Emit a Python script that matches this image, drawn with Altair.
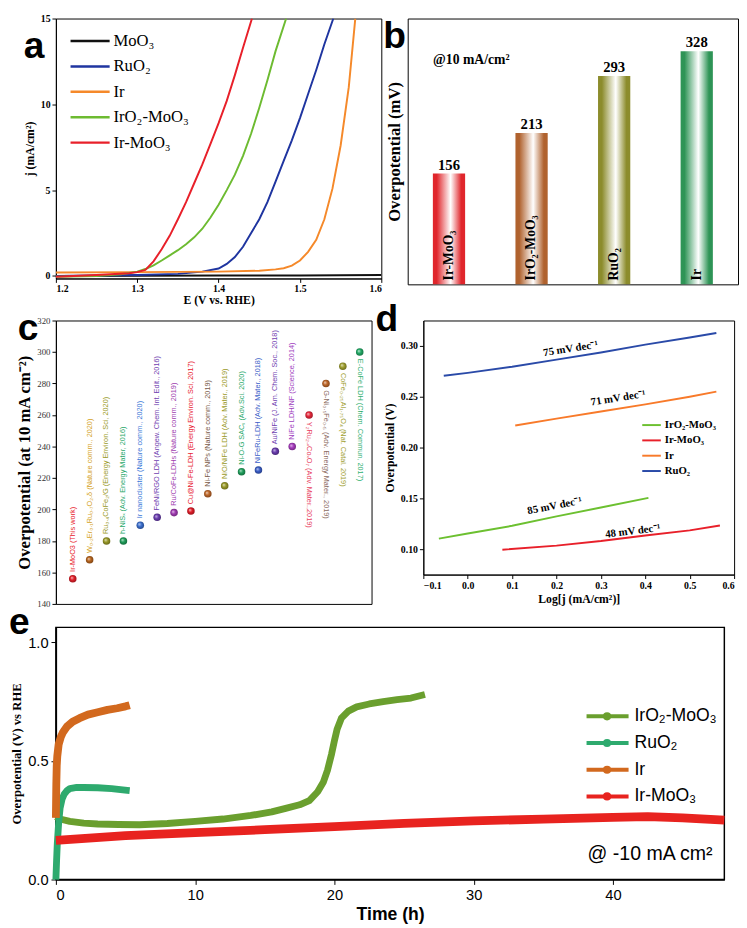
import altair as alt
import pandas as pd

SERIF = "Liberation Serif"
SANS = "Liberation Sans"

# ---------------- panel a : LSV curves ----------------
a_names = ["MoO₃", "RuO₂", "Ir", "IrO₂-MoO₃", "Ir-MoO₃"]
a_colors = ["#111111", "#1f35a0", "#f5892a", "#6dbb31", "#e8202a"]
a_moo3_E = [1.20, 1.30, 1.40, 1.50, 1.60]
a_moo3_j = [0.00, 0.01, 0.02, 0.03, 0.05]
a_ruo2_E = [1.20, 1.30, 1.35, 1.38, 1.40, 1.41, 1.42, 1.43, 1.44, 1.45, 1.46, 1.47, 1.48, 1.49, 1.50, 1.51, 1.52, 1.53, 1.541]
a_ruo2_j = [0.00, 0.05, 0.12, 0.25, 0.43, 0.70, 1.10, 1.70, 2.50, 3.30, 4.30, 5.50, 6.70, 7.90, 9.20, 10.6, 12.0, 13.5, 15.0]
a_ir_E = [1.20, 1.30, 1.40, 1.45, 1.47, 1.48, 1.49, 1.50, 1.51, 1.52, 1.53, 1.54, 1.55, 1.56, 1.568]
a_ir_j = [0.20, 0.22, 0.25, 0.30, 0.38, 0.45, 0.60, 0.90, 1.40, 2.10, 3.30, 5.10, 7.60, 11.0, 15.0]
a_iro2_E = [1.20, 1.25, 1.28, 1.30, 1.31, 1.32, 1.33, 1.34, 1.35, 1.36, 1.37, 1.38, 1.39, 1.40, 1.41, 1.42, 1.43, 1.44, 1.45, 1.46, 1.47, 1.483]
a_iro2_j = [-0.05, 0.00, 0.10, 0.25, 0.40, 0.62, 0.90, 1.20, 1.50, 1.85, 2.25, 2.75, 3.40, 4.15, 5.00, 5.90, 7.00, 8.30, 9.80, 11.4, 13.1, 15.0]
a_irmoo3_E = [1.20, 1.25, 1.29, 1.30, 1.31, 1.32, 1.33, 1.34, 1.35, 1.36, 1.37, 1.38, 1.39, 1.40, 1.41, 1.42, 1.43, 1.441]
a_irmoo3_j = [-0.05, 0.05, 0.15, 0.22, 0.35, 0.85, 1.55, 2.35, 3.30, 4.30, 5.40, 6.50, 7.70, 8.90, 10.2, 11.7, 13.3, 15.0]

# ---------------- panel b : overpotential bars ----------------
b_names = ["Ir-MoO₃", "IrO₂-MoO₃", "RuO₂", "Ir"]
b_values = [156, 213, 293, 328]
b_colors = ["#e0262c", "#b0622e", "#8c8c2c", "#2e9456"]

# ---------------- panel c : comparison ----------------
c_labels = [
    "Ir-MoO3 (This work)",
    "W₀.₂Er₀.₁Ru₀.₇O₂₋δ (Nature comm., 2020)",
    "Ru₀.₄CoFe₂/G (Energy Environ. Sci, 2020)",
    "h-NiSₓ (Adv. Energy Mater, 2016)",
    "Ir nanocluster (Nature comm., 2020)",
    "FeNi/RGO LDH (Angew. Chem. Int. Edit., 2016)",
    "Ru/CoFe-LDHs (Nature comm., 2019)",
    "Cu@Ni-Fe-LDH (Energy Environ. Sci, 2017)",
    "Ni-Fe NPs (Nature comm., 2019)",
    "NiO/NiFe LDH (Adv. Mater., 2019)",
    "Ni-O-G SACₛ (Adv.Sci. 2020)",
    "NiFeRu-LDH (Adv. Mater., 2018)",
    "Au/NiFe (J. Am. Chem. Soc., 2018)",
    "NiFe LDH/NF (Science, 2014)",
    "Y₂Ru₂₋ₓCoₓO₇ (Adv. Mater.,2019)",
    "G-Ni₀.₅Fe₀.₅ (Adv. Energy Mater., 2019)",
    "CoFe₀.₂₅Al₁.₇₅O₄ (Nat. Catal. 2019)",
    "E-CoFe LDH (Chem. Commun, 2017)",
]
c_values = [156, 168, 180, 180, 190, 195, 198, 199, 210, 215, 224, 225, 237, 240, 260, 280, 291, 300]
c_label_down = [False] * 14 + [True] * 4
c_point_colors = ["#e3202a", "#b8651e", "#9a9a28", "#1f9e5a", "#3a6fd0", "#6a3cb0", "#a23cb4", "#e01c28",
                  "#c0682a", "#9a9a28", "#1fa05c", "#3a5ec8", "#6a3cb0", "#a83cc0", "#e8283c", "#c0682a",
                  "#a0a030", "#22aa66"]
c_text_colors = ["#e8202a", "#d4a21e", "#9a9a28", "#28a86a", "#3a78d8", "#7040b0", "#a040b0", "#e82030",
                 "#7a5a48", "#9a9a28", "#28a86a", "#3a60c8", "#7040b0", "#a040c0", "#e84060", "#8a6a60",
                 "#a0a030", "#30b070"]

# ---------------- panel d : Tafel ----------------
d_names = ["IrO₂-MoO₃", "Ir-MoO₃", "Ir", "RuO₂"]
d_colors = ["#6cc030", "#e8202a", "#f87a2a", "#2a4aa8"]
d_ruo2_x = [-0.054, 0.0, 0.1, 0.2, 0.3, 0.4, 0.5, 0.56]
d_ruo2_y = [0.2706, 0.2735, 0.2795, 0.2865, 0.2935, 0.3013, 0.3083, 0.3127]
d_ir_x = [0.107, 0.2, 0.3, 0.4, 0.5, 0.56]
d_ir_y = [0.2217, 0.2285, 0.2354, 0.2425, 0.2500, 0.2550]
d_iro2_x = [-0.065, 0.0, 0.1, 0.2, 0.3, 0.407]
d_iro2_y = [0.1104, 0.1155, 0.1230, 0.1323, 0.1410, 0.1505]
d_irmoo3_x = [0.078, 0.2, 0.3, 0.4, 0.5, 0.568]
d_irmoo3_y = [0.0995, 0.1035, 0.1080, 0.1135, 0.1185, 0.1233]
d_slope_text = ["75 mV dec⁻¹", "71 mV dec⁻¹", "85 mV dec⁻¹", "48 mV dec⁻¹"]
d_slope_x = [0.232, 0.339, 0.196, 0.372]
d_slope_y = [0.297, 0.2484, 0.1424, 0.1175]
d_slope_angle = [351, 351, 349, 353]

# ---------------- panel e : stability ----------------
e_names = ["IrO₂-MoO₃", "RuO₂", "Ir", "Ir-MoO₃"]
e_colors = ["#6a9f2e", "#2eaa6e", "#d2691e", "#e8231f"]
e_iro2_t = [0.0, 0.3, 1, 2, 3, 4.5, 6, 8, 10, 12, 14, 15.5, 16.5, 17.5, 18.2, 18.8, 19.2, 19.5, 19.8, 20.0, 20.2, 20.5, 21.0, 21.6, 22.5, 23.5, 24.5, 25.5, 26.5]
e_iro2_v = [0.265, 0.255, 0.245, 0.238, 0.234, 0.232, 0.231, 0.236, 0.245, 0.255, 0.270, 0.285, 0.300, 0.315, 0.333, 0.370, 0.410, 0.460, 0.530, 0.585, 0.635, 0.680, 0.710, 0.728, 0.740, 0.750, 0.758, 0.765, 0.780]
e_ruo2_t = [0.0, 0.05, 0.1, 0.2, 0.3, 0.45, 0.6, 0.8, 1.0, 1.5, 2.0, 3.0, 4.0, 4.8, 5.3]
e_ruo2_v = [0.0, 0.08, 0.15, 0.24, 0.30, 0.34, 0.36, 0.375, 0.383, 0.388, 0.388, 0.387, 0.383, 0.378, 0.375]
e_ir_t = [0.0, 0.03, 0.06, 0.1, 0.2, 0.35, 0.5, 0.8, 1.2, 1.7, 2.3, 3.0, 3.7, 4.4, 5.0, 5.3]
e_ir_v = [0.26, 0.40, 0.48, 0.52, 0.57, 0.60, 0.62, 0.645, 0.665, 0.68, 0.695, 0.705, 0.715, 0.722, 0.73, 0.735]
e_irmoo3_t = [0, 5, 10, 15, 20, 25, 30, 35, 40, 42.5, 45, 48]
e_irmoo3_v = [0.165, 0.185, 0.198, 0.210, 0.223, 0.237, 0.247, 0.255, 0.262, 0.265, 0.260, 0.250]

LETTER_SIZE = 38


def axis(title, values=None, fmt=None, lfont=SERIF, lsize=10, lweight="bold",
         tfont=SERIF, tsize=12, tweight="bold", **kw):
    d = dict(title=title, labelFont=lfont, labelFontSize=lsize, labelFontWeight=lweight,
             titleFont=tfont, titleFontSize=tsize, titleFontWeight=tweight, grid=False,
             domainColor="black", tickColor="black", labelColor="black", titleColor="black",
             tickSize=4, labelPadding=2, titlePadding=4)
    if values is not None:
        d["values"] = values
    if fmt:
        d["format"] = fmt
    d.update(kw)
    return alt.Axis(**d)


def legend_layer(names, colors, x1, x2, xt, ytop, ybot, font, size, weight="normal",
                 sw=2.5, dot=None, xdot=None):
    df = pd.DataFrame({"name": names, "col": colors, "i": list(range(len(names)))})
    y = alt.Y("i:Q", scale=alt.Scale(domain=[0, len(names) - 1], range=[ytop, ybot], nice=False, zero=False), axis=None)
    col = alt.Color("col:N", scale=None)
    base = alt.Chart(df)
    layers = [base.mark_rule(strokeWidth=sw).encode(x=alt.value(x1), x2=alt.value(x2), y=y, color=col)]
    if dot:
        layers.append(base.mark_circle(size=dot, opacity=1).encode(x=alt.value(xdot), y=y, color=col))
    layers.append(base.mark_text(align="left", baseline="middle", font=font, fontSize=size,
                                 fontWeight=weight, color="black").encode(x=alt.value(xt), y=y, text="name:N"))
    return alt.layer(*layers)


def letter(ch, x, y):
    # y is the top of the text box (baseline "top")
    return alt.Chart(pd.DataFrame({"t": [ch]})).mark_text(
        font=SANS, fontSize=LETTER_SIZE, fontWeight="bold", align="left", baseline="top", color="black"
    ).encode(x=alt.value(x), y=alt.value(y), text="t:N")


def lighten(hexc, f):
    h = hexc.lstrip("#")
    r, g, b = int(h[0:2], 16), int(h[2:4], 16), int(h[4:6], 16)
    r, g, b = [int(c + (255 - c) * f) for c in (r, g, b)]
    return "#%02x%02x%02x" % (r, g, b)


def darken(hexc, f):
    h = hexc.lstrip("#")
    r, g, b = int(h[0:2], 16), int(h[2:4], 16), int(h[4:6], 16)
    r, g, b = [int(c * (1 - f)) for c in (r, g, b)]
    return "#%02x%02x%02x" % (r, g, b)


# ======================= panel a =======================
Wa, Ha = 333, 266
a_series = {
    "MoO₃": (a_moo3_E, a_moo3_j),
    "RuO₂": (a_ruo2_E, a_ruo2_j),
    "Ir": (a_ir_E, a_ir_j),
    "IrO₂-MoO₃": (a_iro2_E, a_iro2_j),
    "Ir-MoO₃": (a_irmoo3_E, a_irmoo3_j),
}
a_rows = []
for n, (E, j) in a_series.items():
    a_rows += [{"s": n, "E": e_, "j": j_} for e_, j_ in zip(E, j)]
a_df = pd.DataFrame(a_rows)
a_x = alt.X("E:Q", scale=alt.Scale(domain=[1.2, 1.6], nice=False),
            axis=axis("E  (V vs. RHE)", [1.2, 1.3, 1.4, 1.5, 1.6], ".1f", labelPadding=1, titlePadding=2))
a_y = alt.Y("j:Q", scale=alt.Scale(domain=[-0.15, 15], nice=False),
            axis=axis("j (mA/cm²)", [0, 5, 10, 15]))
a_lines = alt.layer(*[
    alt.Chart(a_df).transform_filter(alt.datum.s == n).mark_line(color=c, strokeWidth=2, clip=True)
    .encode(x=a_x, y=a_y)
    for n, c in zip(a_names, a_colors)
])
a_leg = legend_layer(a_names, a_colors, 15, 55, 59, 23, 127, SERIF, 17, sw=2.5)
panel_a = alt.layer(a_lines, a_leg, letter("a", -33, 10)).resolve_scale(y="independent").properties(width=Wa, height=Ha)

# ======================= panel b =======================
Wb, Hb = 338, 272
b_df = pd.DataFrame({"name": b_names, "v": b_values})
b_x = alt.X("name:N", sort=b_names, scale=alt.Scale(domain=b_names, paddingInner=0, paddingOuter=0), axis=None)
b_y = alt.Y("v:Q", scale=alt.Scale(domain=[0, 374], nice=False),
            axis=axis("Overpotential (mV)", tsize=17, labels=False, ticks=False, domain=False))
b_bars = []
for n, c in zip(b_names, b_colors):
    grad = alt.LinearGradient(gradient="linear", x1=0, x2=1, y1=0, y2=0, stops=[
        alt.GradientStop(offset=0, color=c), alt.GradientStop(offset=0.12, color=c),
        alt.GradientStop(offset=0.55, color="#ffffff"), alt.GradientStop(offset=0.88, color=c),
        alt.GradientStop(offset=1, color=c)])
    b_bars.append(alt.Chart(b_df).transform_filter(alt.datum.name == n)
                  .mark_bar(width=33, color=grad).encode(x=b_x, y=b_y))
b_vals = alt.Chart(b_df).mark_text(dy=-9, font=SERIF, fontSize=15, fontWeight="bold", color="black").encode(
    x=b_x, y=b_y, text="v:Q")
b_names_txt = alt.Chart(b_df).mark_text(angle=270, align="left", baseline="middle", dx=4, font=SERIF,
                                         fontSize=14, fontWeight="bold", color="black").encode(
    x=b_x, y=alt.value(Hb), text="name:N")
b_note = alt.Chart(pd.DataFrame({"t": ["@10 mA/cm²"]})).mark_text(
    align="left", baseline="middle", font=SERIF, fontSize=14, fontWeight="bold", color="black").encode(
    x=alt.value(26), y=alt.value(43), text="t:N")
panel_b = alt.layer(*b_bars, b_vals, b_names_txt, b_note, letter("b", -25, 0)).properties(width=Wb, height=Hb)

# ======================= panel c =======================
Wc, Hc = 323, 290
c_df = pd.DataFrame({"idx": list(range(1, len(c_labels) + 1)), "label": c_labels, "v": c_values,
                     "tcol": c_text_colors, "down": c_label_down})
c_x = alt.X("idx:Q", scale=alt.Scale(domain=[0, 18.7], nice=False), axis=None)
c_y = alt.Y("v:Q", scale=alt.Scale(domain=[140, 320], nice=False),
            axis=axis("Overpotential (at 10 mA cm⁻²)", list(range(140, 321, 20)), lsize=9, lweight="normal",
                      tsize=17, labelColor="#333333"))
c_points = []
for i, col in enumerate(c_point_colors, start=1):
    rg = alt.RadialGradient(gradient="radial", x1=0.35, y1=0.35, r1=0, x2=0.5, y2=0.5, r2=0.55, stops=[
        alt.GradientStop(offset=0, color=lighten(col, 0.75)),
        alt.GradientStop(offset=0.45, color=col),
        alt.GradientStop(offset=1, color=darken(col, 0.35))])
    c_points.append(alt.Chart(c_df).transform_filter(alt.datum.idx == i)
                    .mark_circle(size=60, opacity=1, fill=rg).encode(x=c_x, y=c_y))
c_text_up = alt.Chart(c_df).transform_filter("!datum.down").mark_text(
    angle=270, align="left", baseline="middle", dx=7, font=SANS, fontSize=7.5).encode(
    x=c_x, y=c_y, text="label:N", color=alt.Color("tcol:N", scale=None))
c_text_down = alt.Chart(c_df).transform_filter("datum.down").mark_text(
    angle=90, align="left", baseline="middle", dx=7, font=SANS, fontSize=7.5).encode(
    x=c_x, y=c_y, text="label:N", color=alt.Color("tcol:N", scale=None))
panel_c = alt.layer(*c_points, c_text_up, c_text_down, letter("c", -39, -10)).properties(width=Wc, height=Hc)

# ======================= panel d =======================
Wd, Hd = 318, 260
d_series = {
    "IrO₂-MoO₃": (d_iro2_x, d_iro2_y),
    "Ir-MoO₃": (d_irmoo3_x, d_irmoo3_y),
    "Ir": (d_ir_x, d_ir_y),
    "RuO₂": (d_ruo2_x, d_ruo2_y),
}
d_rows = []
for n, (xs, ys) in d_series.items():
    d_rows += [{"s": n, "x": x_, "y": y_} for x_, y_ in zip(xs, ys)]
d_df = pd.DataFrame(d_rows)
d_x = alt.X("x:Q", scale=alt.Scale(domain=[-0.1, 0.6], nice=False),
            axis=axis("Log[j (mA/cm²)]", [-0.1, 0, 0.1, 0.2, 0.3, 0.4, 0.5, 0.6], ".1f"))
d_y = alt.Y("y:Q", scale=alt.Scale(domain=[0.075, 0.325], nice=False),
            axis=axis("Overpotential (V)", [0.10, 0.15, 0.20, 0.25, 0.30], ".2f"))
d_lines = alt.layer(*[
    alt.Chart(d_df).transform_filter(alt.datum.s == n).mark_line(color=c, strokeWidth=2).encode(x=d_x, y=d_y)
    for n, c in zip(d_names, d_colors)
])
d_ann_df = pd.DataFrame({"t": d_slope_text, "x": d_slope_x, "y": d_slope_y, "a": d_slope_angle})
d_ann = alt.Chart(d_ann_df).mark_text(font=SERIF, fontSize=11, fontWeight="bold", color="black").encode(
    x=d_x, y=d_y, text="t:N", angle=alt.Angle("a:Q", scale=None))
d_main = alt.layer(d_lines, d_ann)
d_leg = legend_layer(d_names, d_colors, 224, 243, 247, 107, 154, SERIF, 11, weight="bold", sw=2)
panel_d = alt.layer(d_main, d_leg, letter("d", -49, -19)).resolve_scale(y="independent").properties(width=Wd, height=Hd)

# ======================= panel e =======================
We, He = 684, 258
e_series = {
    "IrO₂-MoO₃": (e_iro2_t, e_iro2_v),
    "RuO₂": (e_ruo2_t, e_ruo2_v),
    "Ir": (e_ir_t, e_ir_v),
    "Ir-MoO₃": (e_irmoo3_t, e_irmoo3_v),
}
e_rows = []
for n, (ts, vs) in e_series.items():
    e_rows += [{"s": n, "t": t_, "v": v_} for t_, v_ in zip(ts, vs)]
e_df = pd.DataFrame(e_rows)
e_x = alt.X("t:Q", scale=alt.Scale(domain=[0, 48], nice=False),
            axis=axis("Time (h)", [0, 10, 20, 30, 40], lfont=SANS, lsize=15, lweight="normal",
                      tfont=SANS, tsize=18, tickSize=5, labelPadding=3, domainWidth=1.5))
e_y = alt.Y("v:Q", scale=alt.Scale(domain=[0, 1.063], nice=False),
            axis=axis("Overpotential (V) vs RHE", [0, 0.5, 1.0], ".1f", lfont=SANS, lsize=15,
                      lweight="normal", tsize=13, tickSize=5, labelPadding=3, titlePadding=4, domainWidth=1.5))
e_widths = [7, 7, 8, 9]
e_lines = alt.layer(*[
    alt.Chart(e_df).transform_filter(alt.datum.s == n)
    .mark_line(color=c, strokeWidth=w, strokeJoin="round").encode(x=e_x, y=e_y)
    for n, c, w in zip(e_names, e_colors, e_widths)
])
e_leg = legend_layer(e_names, e_colors, We - 141, We - 98, We - 92, 91, 173, SANS, 18, sw=4, dot=70,
                     xdot=We - 120)
e_note = alt.Chart(pd.DataFrame({"t": ["@ -10 mA cm²"]})).mark_text(
    align="left", baseline="middle", font=SANS, fontSize=20, color="black").encode(
    x=alt.value(We - 140), y=alt.value(232), text="t:N")
panel_e = alt.layer(e_lines, e_leg, e_note, letter("e", -48, -23)).resolve_scale(y="independent").properties(
    width=We, height=He, view=alt.ViewBackground(stroke="black", strokeWidth=1.5))

row1 = alt.hconcat(panel_a, panel_b, spacing=0)
row2 = alt.hconcat(panel_c, panel_d, spacing=2)
chart = alt.vconcat(row1, row2, panel_e, spacing=-6).properties(
    padding={"left": 0, "top": -6, "right": 0, "bottom": 0}).configure_view(stroke="black", strokeWidth=1)

chart.save("out.html", embed_options={"renderer": "svg", "actions": False})
